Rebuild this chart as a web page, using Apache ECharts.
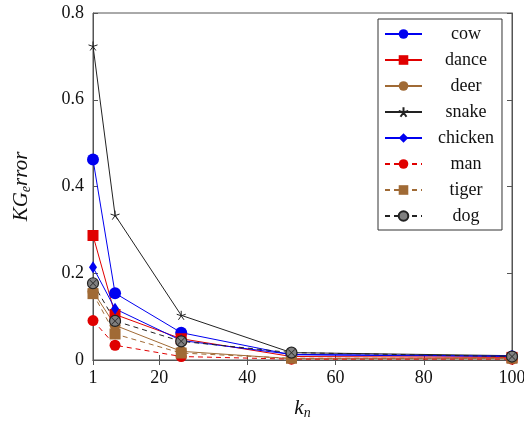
<!DOCTYPE html>
<html><head><meta charset="utf-8">
<script src="https://cdn.jsdelivr.net/npm/echarts@6/dist/echarts.min.js"></script>
<style>html,body{margin:0;padding:0;background:#fff}#c{width:524px;height:423px}</style>
</head><body><div id="c"></div>
<script>
var kn = [5, 10, 25, 50, 100];
var xTickValues = [5, 20, 40, 60, 80, 100];
var xTickLabels = ['1', '20', '40', '60', '80', '100'];
var cow     = [0.462, 0.154, 0.063, 0.012, 0.008];
var dance   = [0.287, 0.105, 0.049, 0.008, 0.006];
var deer    = [0.158, 0.080, 0.020, 0.003, 0.003];
var snake   = [0.724, 0.334, 0.103, 0.017, 0.010];
var chicken = [0.214, 0.118, 0.045, 0.013, 0.009];
var man     = [0.091, 0.034, 0.008, 0.002, 0.002];
var tiger   = [0.153, 0.060, 0.016, 0.004, 0.004];
var dog     = [0.177, 0.090, 0.043, 0.017, 0.008];
var names = ['cow', 'dance', 'deer', 'snake', 'chicken', 'man', 'tiger', 'dog'];

function pairs(v) { return kn.map(function (x, i) { return [x, v[i]]; }); }
var SERIF = '"Liberation Serif", "DejaVu Serif", serif';
var BLUE = '#0000f0', RED = '#e00000', BROWN = '#a06a35', BLACK = '#222';
var STAR = 'path://M0,0L0,-10M0,0L9.51,-3.09M0,0L5.88,8.09M0,0L-5.88,8.09M0,0L-9.51,-3.09';
var XPATH = 'path://M-7,-6L-6,-7L0,-1L6,-7L7,-6L1,0L7,6L6,7L0,1L-6,7L-7,6L-1,0Z';

function mk(name, data, color, symbol, size, dashed, extra) {
  var s = {
    name: name, type: 'line', data: pairs(data), symbol: symbol, symbolSize: size,
    showSymbol: true, animation: false,
    lineStyle: { color: color, width: 1, type: dashed ? [5, 4] : 'solid' },
    itemStyle: { color: color }
  };
  if (extra) for (var k in extra) s[k] = extra[k];
  return s;
}

var series = [
  mk('cow', cow, BLUE, 'circle', 12, false),
  mk('dance', dance, RED, 'rect', 11, false),
  mk('deer', deer, BROWN, 'circle', 11, false),
  mk('snake', snake, BLACK, STAR, 9, false, { itemStyle: { color: BLACK, borderColor: BLACK, borderWidth: 1 } }),
  mk('chicken', chicken, BLUE, 'diamond', [8, 12], false),
  mk('man', man, RED, 'circle', 11, true),
  mk('tiger', tiger, BROWN, 'rect', 11, true),
  mk('dog', dog, BLACK, 'circle', 11, true, { itemStyle: { color: '#808080', borderColor: '#222', borderWidth: 1.2 } }),
  { name: 'dogx', type: 'scatter', data: pairs(dog), symbol: XPATH, symbolSize: 7, z: 5,
    itemStyle: { color: '#111' }, animation: false, silent: true }
];

var axisCol = '#555';
var chart = echarts.init(document.getElementById('c'), null, { renderer: 'canvas' });
chart.setOption({
  backgroundColor: '#fff',
  animation: false,
  grid: { left: 93, right: 12, top: 13, bottom: 63, show: true, borderColor: axisCol, borderWidth: 1,
    containLabel: false, outerBoundsMode: 'none' },
  legend: {
    data: names, orient: 'vertical', left: 378, top: 19,
    itemWidth: 37, itemHeight: 12, itemGap: 8,
    padding: [6, 8, 5, 6],
    borderColor: '#333', borderWidth: 1, backgroundColor: '#fff',
    formatter: function (n) { return '{a|' + n + '}'; },
    textStyle: { fontFamily: SERIF, fontSize: 18, color: '#111',
      rich: { a: { fontFamily: SERIF, fontSize: 18, color: '#111', width: 78, align: 'center' } } }
  },
  xAxis: [{
    type: 'value', min: 5, max: 100,
    name: '{i|k}{s|n}', nameLocation: 'middle', nameGap: 36,
    nameTextStyle: { rich: {
      i: { fontFamily: SERIF, fontStyle: 'italic', fontSize: 21, color: '#111', lineHeight: 24, verticalAlign: 'middle' },
      s: { fontFamily: SERIF, fontStyle: 'italic', fontSize: 14, color: '#111', lineHeight: 24, verticalAlign: 'bottom', padding: [8, 0, 0, 0] } } },
    axisLine: { show: true, lineStyle: { color: axisCol } },
    axisTick: { show: true, inside: true, length: 5, customValues: xTickValues, lineStyle: { color: axisCol } },
    axisLabel: { customValues: xTickValues, fontFamily: SERIF, fontSize: 18, color: '#111', margin: 9,
      formatter: function (v) { var i = xTickValues.indexOf(v); return i >= 0 ? xTickLabels[i] : ''; } },
    splitLine: { show: false }
  }, {
    type: 'value', min: 5, max: 100, position: 'top',
    axisLine: { show: true, lineStyle: { color: axisCol } },
    axisTick: { show: true, inside: true, length: 5, customValues: xTickValues, lineStyle: { color: axisCol } },
    axisLabel: { show: false }, splitLine: { show: false }
  }],
  yAxis: [{
    type: 'value', min: 0, max: 0.8, interval: 0.2,
    name: '{i|KG}{s|e}{i|rror}', nameLocation: 'middle', nameGap: 60, nameRotate: 90,
    nameTextStyle: { rich: {
      i: { fontFamily: SERIF, fontStyle: 'italic', fontSize: 21, color: '#111', lineHeight: 24, verticalAlign: 'middle' },
      s: { fontFamily: SERIF, fontStyle: 'italic', fontSize: 14, color: '#111', lineHeight: 24, verticalAlign: 'bottom', padding: [8, 0, 0, 0] } } },
    axisLine: { show: true, lineStyle: { color: axisCol } },
    axisTick: { show: true, inside: true, length: 5, lineStyle: { color: axisCol } },
    axisLabel: { fontFamily: SERIF, fontSize: 18, color: '#111', margin: 9 },
    splitLine: { show: false }
  }, {
    type: 'value', min: 0, max: 0.8, interval: 0.2, position: 'right',
    axisLine: { show: true, lineStyle: { color: axisCol } },
    axisTick: { show: true, inside: true, length: 5, lineStyle: { color: axisCol } },
    axisLabel: { show: false }, splitLine: { show: false }
  }],
  series: series
});
</script></body></html>
